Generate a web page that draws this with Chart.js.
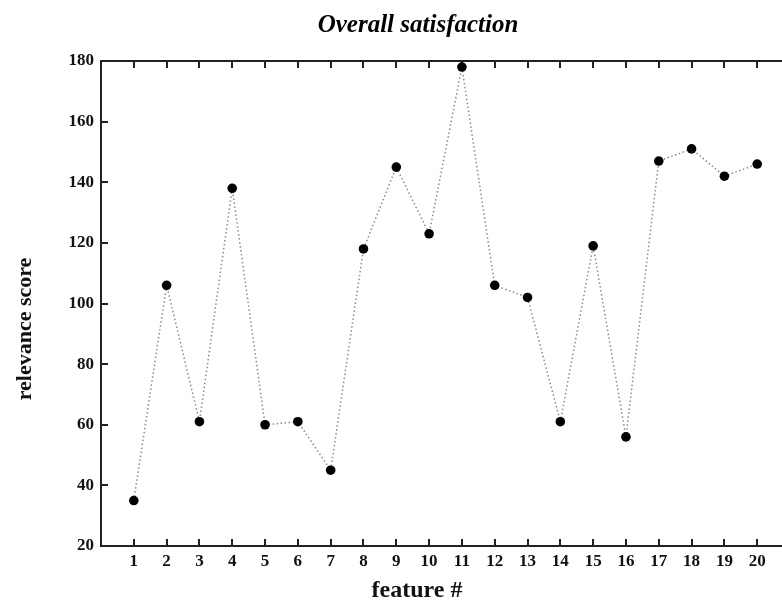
<!DOCTYPE html>
<html>
<head>
<meta charset="utf-8">
<script src="https://cdn.jsdelivr.net/npm/chart.js@4.4.1/dist/chart.umd.min.js"></script>
<style>
html, body { margin: 0; padding: 0; background: #fff; overflow: hidden; }
#wrap { position: absolute; left: 0; top: 0; width: 795px; height: 604px; }
</style>
</head>
<body>
<div id="wrap"><canvas id="myChart" width="795" height="604"></canvas></div>
<script>
// feature numbers and their relevance scores
var features = [1, 2, 3, 4, 5, 6, 7, 8, 9, 10, 11, 12, 13, 14, 15, 16, 17, 18, 19, 20];
var scores = [35, 106, 61, 138, 60, 61, 45, 118, 145, 123, 178, 106, 102, 61, 119, 56, 147, 151, 142, 146];
var yTicks = [20, 40, 60, 80, 100, 120, 140, 160, 180];

var chartTitle = 'Overall satisfaction';
var xTitle = 'feature #';
var yTitle = 'relevance score';

var serif = "'Liberation Serif', 'DejaVu Serif', serif";

function buildPoints(){
	var pts = [];
	for (var i = 0; i < features.length; i++) {
		pts.push({x: features[i], y: scores[i]});
	}
	return pts;
}

// frame with inward ticks on all four sides
var framePlugin = {
	id: 'frame',
	beforeDatasetsDraw: function(chart){
		var ctx = chart.ctx;
		var a = chart.chartArea;
		var xs = chart.scales.x, ys = chart.scales.y;
		var tl = 7;
		ctx.save();
		ctx.strokeStyle = '#222';
		ctx.lineWidth = 2;
		ctx.strokeRect(a.left, a.top, a.right - a.left, a.bottom - a.top);
		ctx.beginPath();
		for (var i = 0; i < features.length; i++) {
			var px = Math.round(xs.getPixelForValue(features[i]));
			ctx.moveTo(px, a.bottom); ctx.lineTo(px, a.bottom - tl);
			ctx.moveTo(px, a.top); ctx.lineTo(px, a.top + tl);
		}
		for (var j = 0; j < yTicks.length; j++) {
			var py = Math.round(ys.getPixelForValue(yTicks[j]));
			ctx.moveTo(a.left, py); ctx.lineTo(a.left + tl, py);
			ctx.moveTo(a.right, py); ctx.lineTo(a.right - tl, py);
		}
		ctx.stroke();
		ctx.restore();
	}
};

// titles: the original figure was cropped on the right, so they sit left of the plot centre
var titlesPlugin = {
	id: 'titles',
	afterDraw: function(chart){
		var ctx = chart.ctx;
		ctx.save();
		ctx.fillStyle = '#000';
		ctx.textAlign = 'center';
		ctx.textBaseline = 'middle';

		ctx.font = "italic bold 25px " + serif;
		ctx.fillText(chartTitle, 418, 26);

		ctx.fillStyle = '#111';
		ctx.font = "bold 24px " + serif;
		ctx.fillText(xTitle, 417, 591);

		ctx.translate(25, 329);
		ctx.rotate(-Math.PI / 2);
		ctx.font = "bold 22px " + serif;
		ctx.fillText(yTitle, 0, 0);
		ctx.restore();
	}
};

var ctx = document.getElementById("myChart").getContext('2d');
var myChart = new Chart(ctx, {
	type: 'line',
	data: {
		datasets: [{
			label: yTitle,
			data: buildPoints(),
			borderColor: '#8a8a8a',
			borderWidth: 1.5,
			borderDash: [1.5, 2.5],
			pointRadius: 4.8,
			pointBackgroundColor: '#000',
			pointBorderColor: '#000',
			pointBorderWidth: 0,
			tension: 0
		}]
	},
	options: {
		responsive: false,
		animation: false,
		layout: { padding: { left: 0, right: 1, top: 61, bottom: 0 } },
		plugins: {
			legend: { display: false },
			tooltip: { enabled: false },
			title: { display: false }
		},
		scales: {
			x: {
				type: 'linear',
				min: 0,
				max: 21,
				afterFit: function(s){ s.height = 58; },
				ticks: {
					stepSize: 1,
					autoSkip: false,
					maxRotation: 0,
					padding: 5,
					color: '#111',
					font: { family: serif, size: 17, weight: 'bold' },
					callback: function(v){ return (v >= 1 && v <= 20) ? String(v) : ''; }
				},
				grid: { display: true, drawOnChartArea: false, drawTicks: false },
				border: { display: false }
			},
			y: {
				min: 20,
				max: 180,
				afterFit: function(s){ s.width = 101; },
				ticks: {
					stepSize: 20,
					padding: 7,
					color: '#111',
					font: { family: serif, size: 17, weight: 'bold' }
				},
				grid: { display: true, drawOnChartArea: false, drawTicks: false },
				border: { display: false }
			}
		}
	},
	plugins: [framePlugin, titlesPlugin]
});
</script>
</body>
</html>
